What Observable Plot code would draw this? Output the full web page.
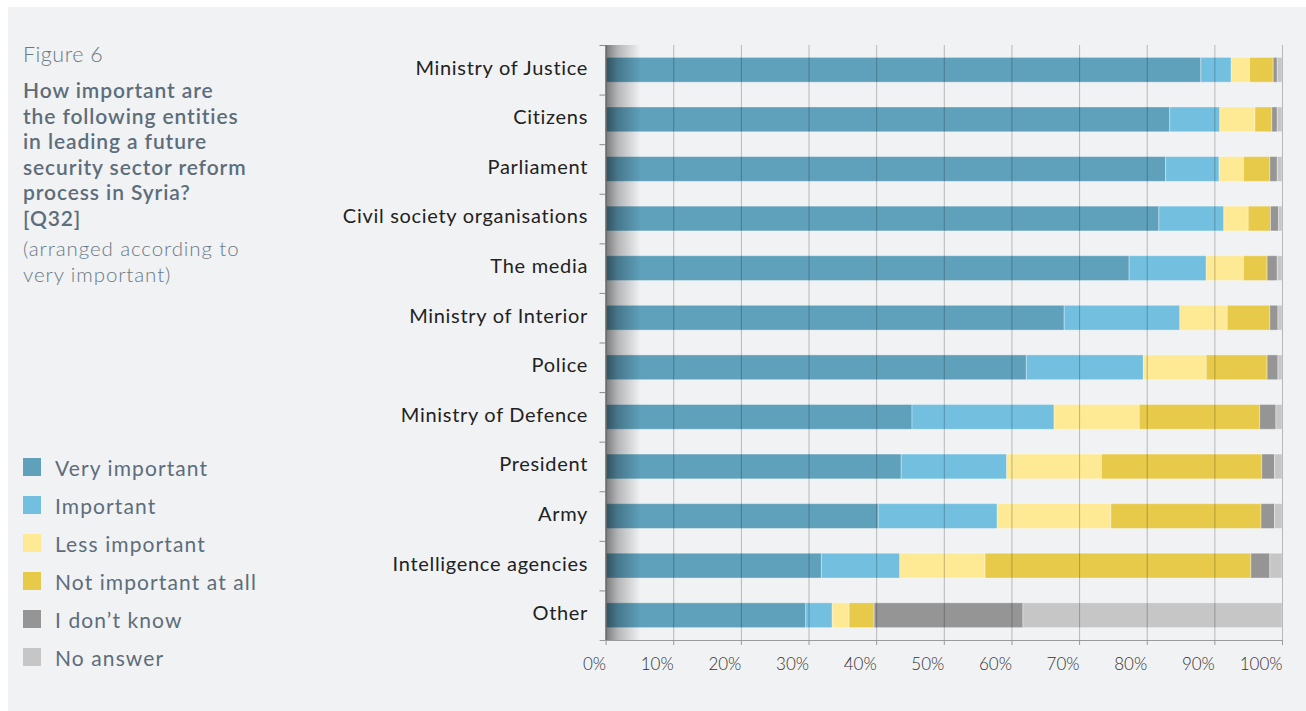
<!DOCTYPE html>
<html>
<head>
<meta charset="utf-8">
<script src="https://cdn.jsdelivr.net/npm/d3@7"></script>
<script src="https://cdn.jsdelivr.net/npm/@observablehq/plot@0.6"></script>
<style>
  html, body { margin: 0; padding: 0; background: #ffffff; width: 1306px; height: 711px; overflow: hidden; }
  #panel { position: absolute; left: 8px; top: 7px; right: 0; bottom: 0; background: #f1f2f4; font-family: Lato, "Open Sans", sans-serif; }
  #side { position: absolute; left: 15px; top: 34px; width: 270px; color: #5d6d7a; }
  #fig { font-size: 21.5px; font-weight: 300; line-height: 26px; color: #6a7985; letter-spacing: 0.5px; }
  #title { font-size: 21px; font-weight: 600; line-height: 25.6px; margin-top: 10px; letter-spacing: 0.9px; }
  #note { font-size: 20.5px; font-weight: 300; line-height: 26px; margin-top: 4px; color: #6a7985; letter-spacing: 0.9px; }
  #legend { position: absolute; left: 15px; top: 441px; }
  .li { display: flex; align-items: center; height: 38px; font-size: 21px; color: #5d6d7a; letter-spacing: 1.1px; }
  .sw { width: 18px; height: 18px; margin-right: 14px; }
  #chart { position: absolute; left: 292px; top: 23px; }
  #chart svg { font-family: Lato, "Open Sans", sans-serif; }
</style>
</head>
<body>
<div id="panel">
  <div id="side">
    <div id="fig">Figure 6</div>
    <div id="title">How important are<br>the following entities<br>in leading a future<br>security sector reform<br>process in Syria?<br>[Q32]</div>
    <div id="note">(arranged according to<br>very important)</div>
  </div>
  <div id="legend"></div>
  <div id="chart"></div>
</div>
<script>
const entities = ["Ministry of Justice","Citizens","Parliament","Civil society organisations","The media","Ministry of Interior","Police","Ministry of Defence","President","Army","Intelligence agencies","Other"];
const responses = ["Very important","Important","Less important","Not important at all","I don\u2019t know","No answer"];
const colors = ["#5fa0bb","#72bfdf","#fee994","#e8ca4a","#959595","#c6c6c7"];
const veryImportant = [88.0, 83.4, 82.8, 81.8, 77.4, 67.8, 62.2, 45.3, 43.7, 40.3, 31.9, 29.6];
const important     = [4.5, 7.4, 7.9, 9.6, 11.4, 17.1, 17.3, 21.0, 15.6, 17.6, 11.6, 3.9];
const lessImportant = [2.7, 5.2, 3.6, 3.6, 5.5, 7.0, 9.3, 12.6, 14.0, 16.8, 12.6, 2.5];
const notAtAll      = [3.5, 2.5, 3.9, 3.3, 3.5, 6.3, 9.0, 17.8, 23.7, 22.2, 39.3, 3.7];
const dontKnow      = [0.6, 0.8, 1.1, 1.2, 1.5, 1.2, 1.6, 2.4, 1.9, 2.0, 2.8, 22.0];
const noAnswer      = [0.7, 0.7, 0.7, 0.5, 0.7, 0.6, 0.6, 0.9, 1.1, 1.1, 1.8, 38.3];
const xTicks = [0,10,20,30,40,50,60,70,80,90,100];

const series = [veryImportant, important, lessImportant, notAtAll, dontKnow, noAnswer];
const data = [];
entities.forEach((e, i) => {
  responses.forEach((r, j) => data.push({entity: e, response: r, value: series[j][i]}));
});

const W = 1000, H = 650, mT = 15, mB = 40, mL = 305.6, mR = 18;
const step = (H - mT - mB) / entities.length;

const chart = Plot.plot({
  width: W, height: H,
  marginTop: mT, marginBottom: mB, marginLeft: mL, marginRight: mR,
  style: {background: "transparent", fontFamily: "Lato, 'Open Sans', sans-serif", overflow: "visible"},
  x: {domain: [0, 100], axis: null, label: null},
  y: {domain: entities, paddingInner: 0.5, paddingOuter: 0.25, round: false, axis: null, label: null},
  color: {domain: responses, range: colors},
  marks: [
    Plot.barX(data, {x: "value", y: "entity", fill: "response", stroke: "#ffffff", strokeOpacity: 0.35, strokeWidth: 1}),
    Plot.rect([0], {x1: 0, x2: 5.2, fill: "url(#shade)"}),
    Plot.ruleX(xTicks.filter(d => d > 0), {stroke: "#000", strokeOpacity: 0.24, strokeWidth: 1}),
    Plot.ruleX([0], {stroke: "#6b6b6b", strokeWidth: 1.5}),
    Plot.ruleY(entities, {y: d => d, dy: -step / 2, x1: -0.9, x2: 0, stroke: "#8a8a8a"}),
    Plot.frame({anchor: "bottom", stroke: "#9a9a9a", insetLeft: -6}),
    Plot.axisX(xTicks, {label: null, tickSize: 5, tickPadding: 12, fontSize: 17, fill: "#333", stroke: "#9a9a9a", textAnchor: "end", tickFormat: d => d + "%", fontWeight: 300}),
    Plot.axisY(entities, {label: null, tickSize: 0, tickPadding: 18, dy: -2, fontSize: 20, fill: "#222"})
  ]
});

const svg = d3.select(chart.tagName === "svg" ? chart : chart.querySelector("svg"));
const grad = svg.insert("defs", ":first-child").append("linearGradient")
  .attr("id", "shade").attr("x1", "0").attr("x2", "1").attr("y1", "0").attr("y2", "0");
grad.append("stop").attr("offset", "0").attr("stop-color", "#000").attr("stop-opacity", 0.5);
grad.append("stop").attr("offset", "0.35").attr("stop-color", "#000").attr("stop-opacity", 0.25);
grad.append("stop").attr("offset", "1").attr("stop-color", "#000").attr("stop-opacity", 0);
svg.selectAll("g[aria-label='y-axis tick label'] text").style("letter-spacing", "0.7px");
document.getElementById("chart").appendChild(chart);

const legend = d3.select("#legend");
responses.forEach((r, i) => {
  const li = legend.append("div").attr("class", "li");
  li.append("div").attr("class", "sw").style("background", colors[i]);
  li.append("div").text(r);
});
</script>
</body>
</html>
